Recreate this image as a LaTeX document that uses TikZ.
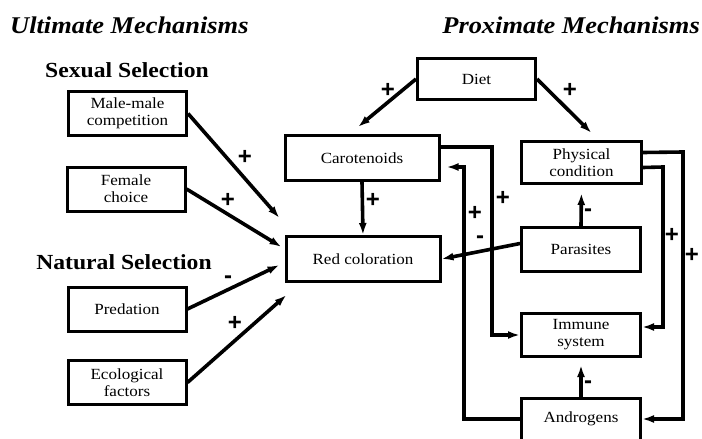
\documentclass[tikz,border=0pt]{standalone}
\usepackage{fontspec}
\setmainfont[FakeStretch=1.1]{Liberation Serif}
\newfontfamily\signfont{Liberation Sans}
\usetikzlibrary{arrows.meta,calc}

\tikzset{
  box/.style={draw,line width=3pt,inner sep=0pt,align=center,
    minimum width=118pt,minimum height=44pt,font=\fontsize{15.5}{17}\selectfont},
  arr/.style={line width=3.6pt,-{Latex[length=12pt,width=8pt]}},
  sign/.style={font=\signfont\fontsize{24}{24}\selectfont\bfseries,inner sep=0pt},
  ttl/.style={font=\fontsize{24}{26}\selectfont\bfseries\itshape},
  sub/.style={font=\fontsize{21.5}{23}\selectfont\bfseries}
}

\begin{document}
\begin{tikzpicture}[x=1pt,y=-1pt]
\useasboundingbox (0,0) rectangle (702,439);

% headings
\node[ttl,anchor=west,inner sep=0pt] (ult) at (10,25) {Ultimate Mechanisms};
\node[ttl,anchor=east,inner sep=0pt] (prox) at (700,25) {Proximate Mechanisms};
\node[sub] (sexsel) at (127,70) {Sexual Selection};
\node[sub] (natsel) at (124,262) {Natural Selection};

% ultimate boxes
\node[box] (male) at (127.5,113.5) {Male-male\\competition};
\node[box] (female) at (126,189) {Female\\choice};
\node[box] (pred) at (127,309) {Predation};
\node[box] (eco) at (127,382.5) {Ecological\\factors};

% proximate boxes
\node[box,minimum height=41pt] (diet) at (476.5,79) {Diet};
\node[box,minimum width=154pt,minimum height=45pt] (caro) at (362,158) {Carotenoids};
\node[box,minimum width=120pt,minimum height=42pt] (phys) at (581.5,162.5) {Physical\\condition};
\node[box,minimum width=154pt,minimum height=45pt] (red) at (363,259) {Red coloration};
\node[box,minimum width=119pt] (para) at (581,249.5) {Parasites};
\node[box,minimum width=119pt,minimum height=43pt] (immune) at (581,335) {Immune\\system};
\node[box,minimum width=119pt,minimum height=42pt] (andro) at (581,419) {Androgens};

% ultimate -> red coloration
\draw[arr] (male.east) -- ($(red.west)+(-5,-41)$);
\draw[arr] (female.east) -- ($(red.west)+(-3,-12)$);
\draw[arr] (pred.east) -- ($(red.west)+(-5,6)$);
\draw[arr] (eco.east) -- ($(red.west)+(2,36)$);

% diet
\draw[arr] (diet.west) -- ($(caro.north)+(-4,-7)$);
\draw[arr] (diet.east) -- ($(phys.north)+(10,-7)$);

% carotenoids
\draw[arr] (caro.south) -- (red.north);
\draw[arr] ($(caro.east)+(0,-11)$) -- (492,147) |- (immune.west);

% parasites
\draw[arr] ($(para.west)+(0,-6)$) -- (red.east);
\draw[arr,shorten >=8pt] (para.north) -- (phys.south);

% androgens
\draw[arr,shorten >=7pt] (andro.north) -- (immune.south);
\draw[arr,shorten >=6pt] (andro.west) -| (464,167) -- ($(caro.east)+(0,9)$);

% physical condition
\draw[arr] ($(phys.east)+(0,-10)$) -- (683,152) |- (andro.east);
\draw[arr] ($(phys.east)+(0,5)$) -- (663,167) |- ($(immune.east)+(0,-8)$);

% signs
\node[sign] (s1) at (245,157) {+};
\node[sign] (s2) at (228,200) {+};
\node[sign] (s3) at (228,280) {-};
\node[sign] (s4) at (235,323) {+};
\node[sign] (s5) at (388,90) {+};
\node[sign] (s6) at (570,90) {+};
\node[sign] (s7) at (373,200) {+};
\node[sign] (s8) at (503,198) {+};
\node[sign] (s9) at (475,213) {+};
\node[sign] (s10) at (480,240) {-};
\node[sign] (s11) at (588,213) {-};
\node[sign] (s12) at (588,385) {-};
\node[sign] (s13) at (672,235) {+};
\node[sign] (s14) at (692,255) {+};
\end{tikzpicture}
\end{document}
